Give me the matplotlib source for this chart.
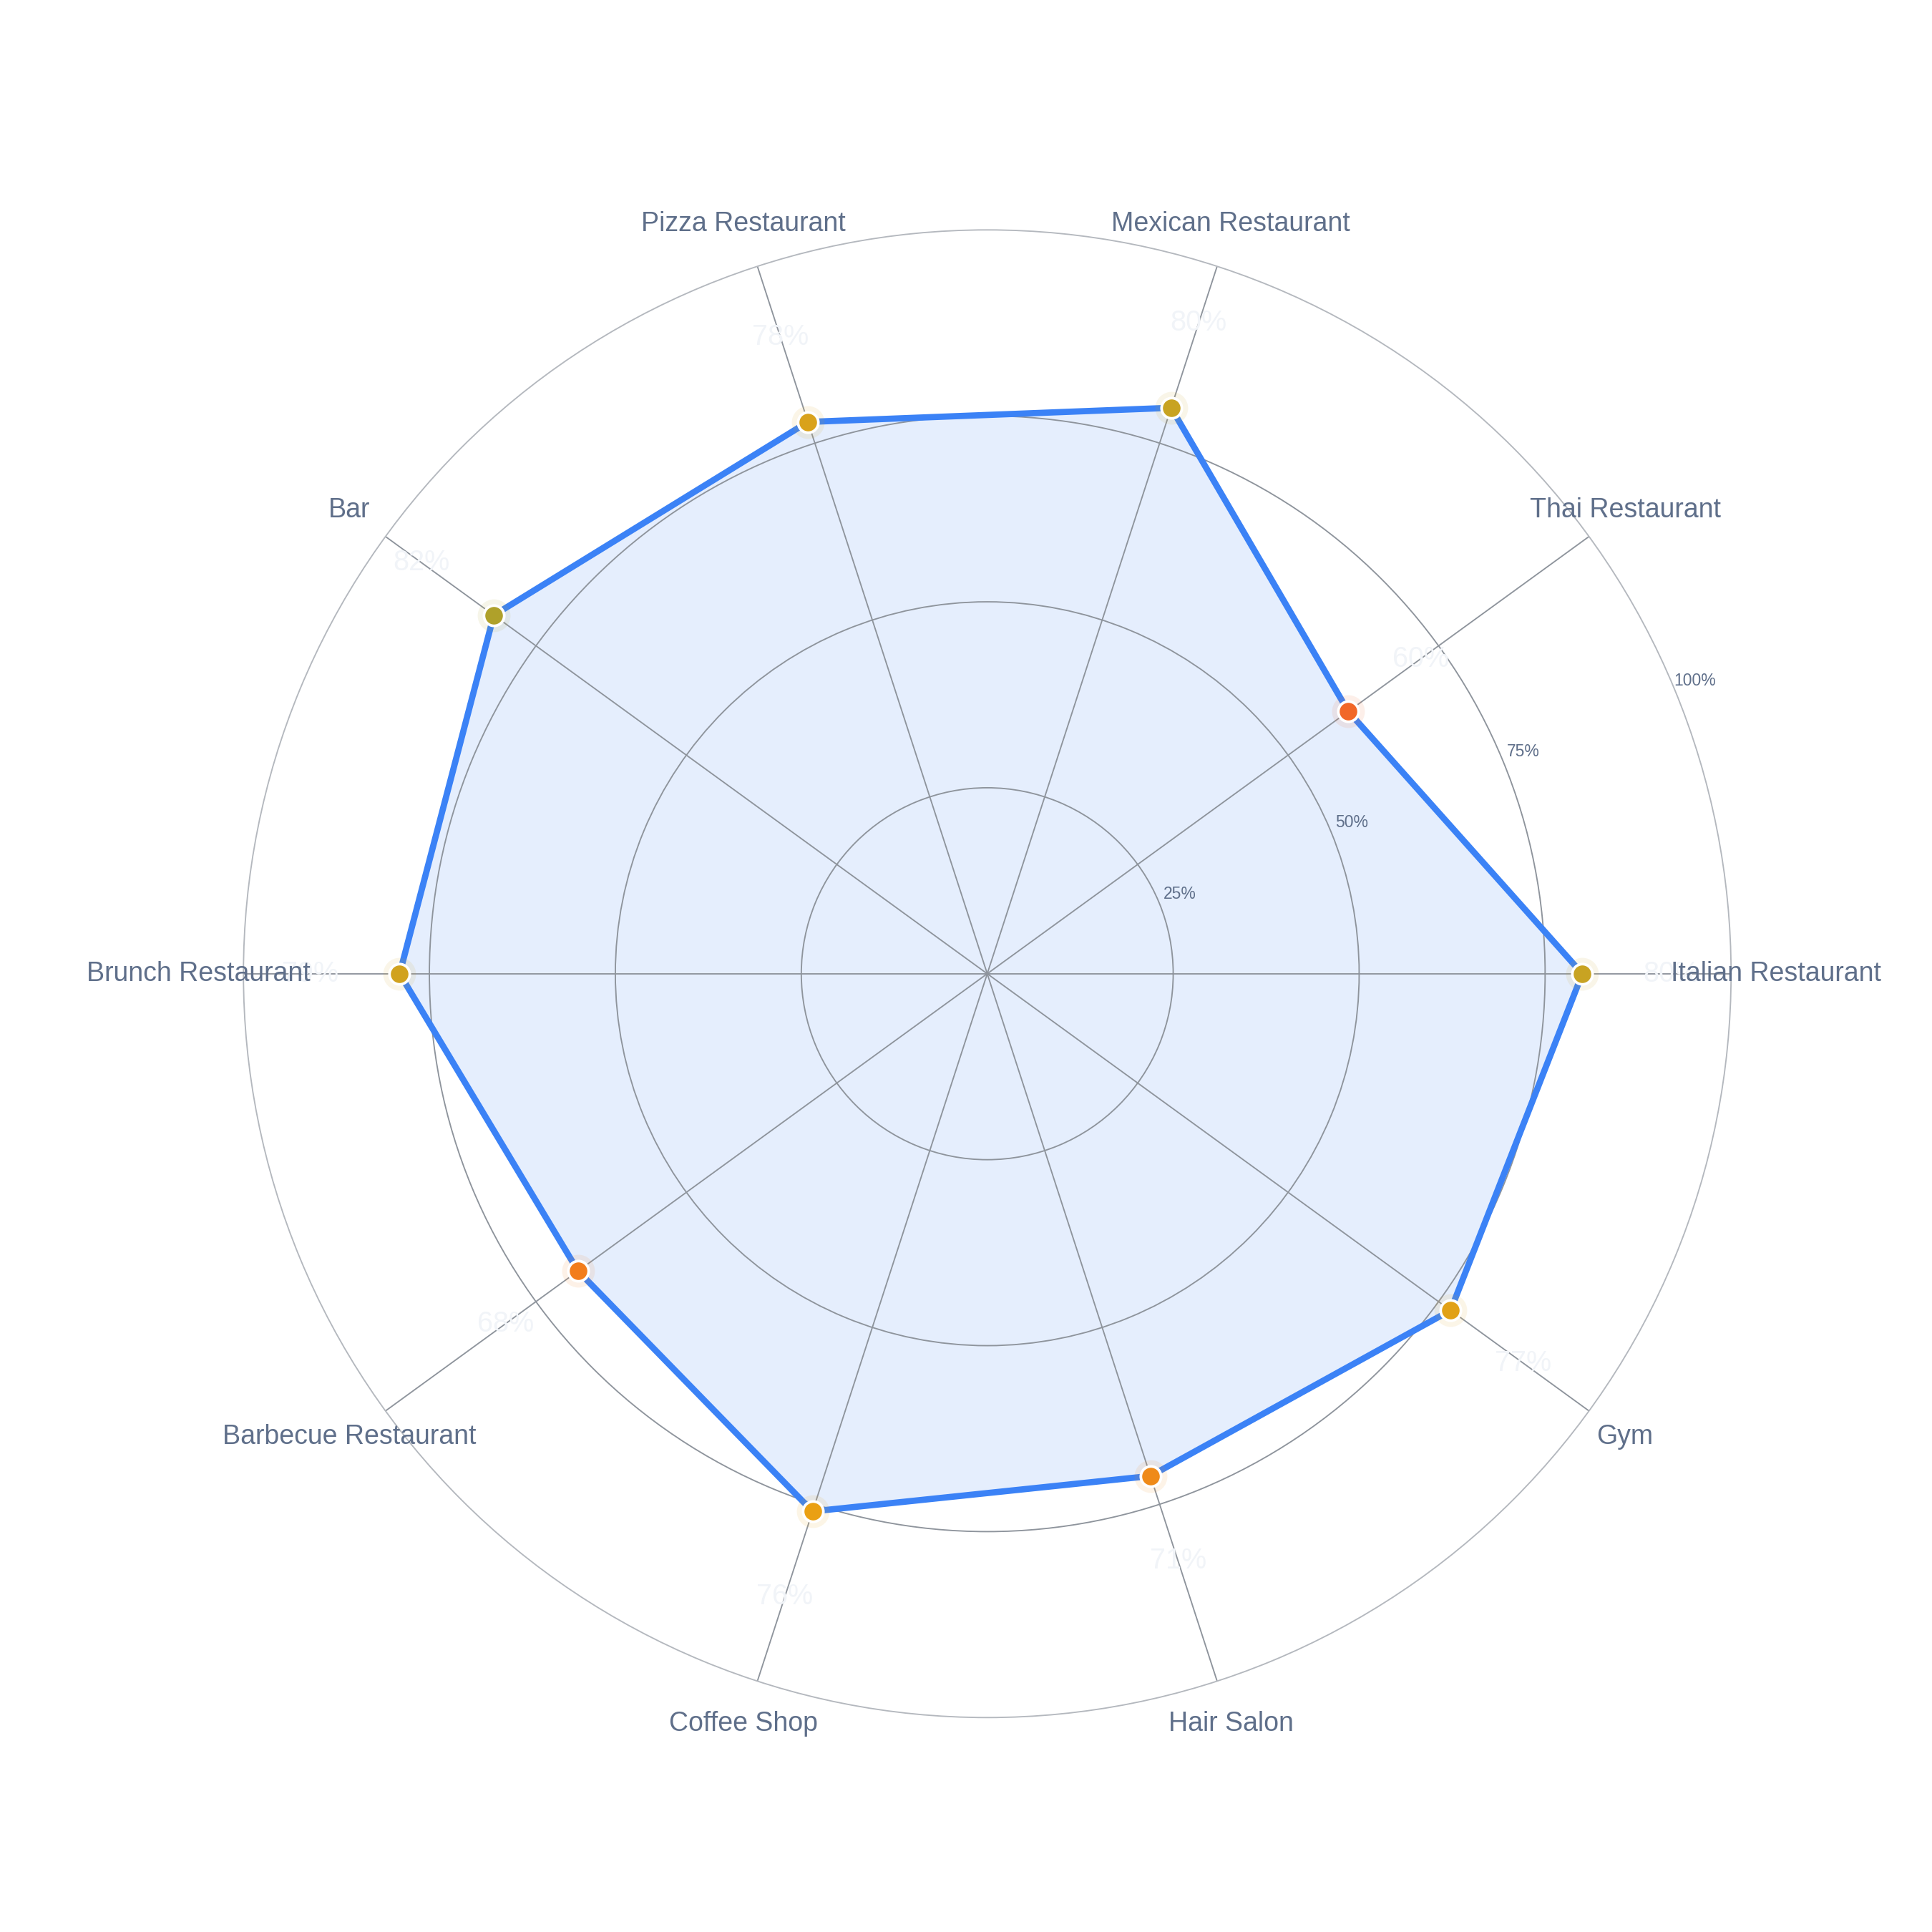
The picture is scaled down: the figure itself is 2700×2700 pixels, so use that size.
import numpy as np
import matplotlib
matplotlib.use("Agg")
import matplotlib.pyplot as plt
from matplotlib.colors import LinearSegmentedColormap, Normalize

plt.rcParams["font.family"] = ["Liberation Sans", "DejaVu Sans"]

categories = [
    "Italian Restaurant", "Thai Restaurant", "Mexican Restaurant",
    "Pizza Restaurant", "Bar", "Brunch Restaurant", "Barbecue Restaurant",
    "Coffee Shop", "Hair Salon", "Gym",
]
values = [80, 60, 80, 78, 82, 79, 68, 76, 71, 77]
radial_ticks = [25, 50, 75, 100]
radial_labels = ["25%", "50%", "75%", "100%"]

LINE = "#3b82f6"
TEXT = "#5f6f8a"
GRID = "#8e949c"

# marker colours run from red-orange (low) to olive (high)
cmap = LinearSegmentedColormap.from_list(
    "score",
    [(0.0, "#f15a2f"), (0.45, "#f27d1c"), (0.72, "#eba012"),
     (0.86, "#c9a322"), (1.0, "#98a032")],
)
norm = Normalize(55, 84)

n = len(categories)
angles = np.linspace(0, 2 * np.pi, n, endpoint=False)
closed_a = np.append(angles, angles[0])
closed_v = np.append(values, values[0])

fig = plt.figure(figsize=(9, 9), dpi=300)
ax = fig.add_axes([0.126, 0.111, 0.770, 0.770], projection="polar")
ax.set_theta_offset(0)
ax.set_theta_direction(1)
ax.set_ylim(0, 100)

ax.set_xticks(angles)
ax.set_xticklabels([])
ax.set_yticks(radial_ticks[:-1])
ax.set_yticklabels([])
ax.tick_params(length=0)
ax.grid(True, color=GRID, linewidth=0.45)
ax.spines["polar"].set_color("#b4b8be")
ax.spines["polar"].set_linewidth(0.45)

ax.fill(closed_a, closed_v, color=LINE, alpha=0.13, linewidth=0, zorder=1)
ax.plot(closed_a, closed_v, color=LINE, linewidth=2.1, zorder=3,
        solid_joinstyle="miter")

for a, v in zip(angles, values):
    c = cmap(norm(v))
    ax.plot(a, v, "o", markersize=11, color=c, alpha=0.1,
            markeredgewidth=0, zorder=4)
    ax.plot(a, v, "o", markersize=6.8, color=c, markeredgecolor="white",
            markeredgewidth=0.9, zorder=5)
    ax.text(a, v + 12, f"{v}%", ha="center", va="center", fontsize=9.5,
            color="#f1f4f8", zorder=6)

for a, lab in zip(angles, categories):
    ax.text(a, 106, lab, ha="center", va="center", fontsize=9,
            color=TEXT, clip_on=False, zorder=7)

for r, lab in zip(radial_ticks, radial_labels):
    ax.text(np.deg2rad(22.5), r + 3, lab, ha="center", va="center",
            fontsize=5.5, color=TEXT, zorder=7)

fig.savefig("out.png", dpi=300, facecolor="white")
